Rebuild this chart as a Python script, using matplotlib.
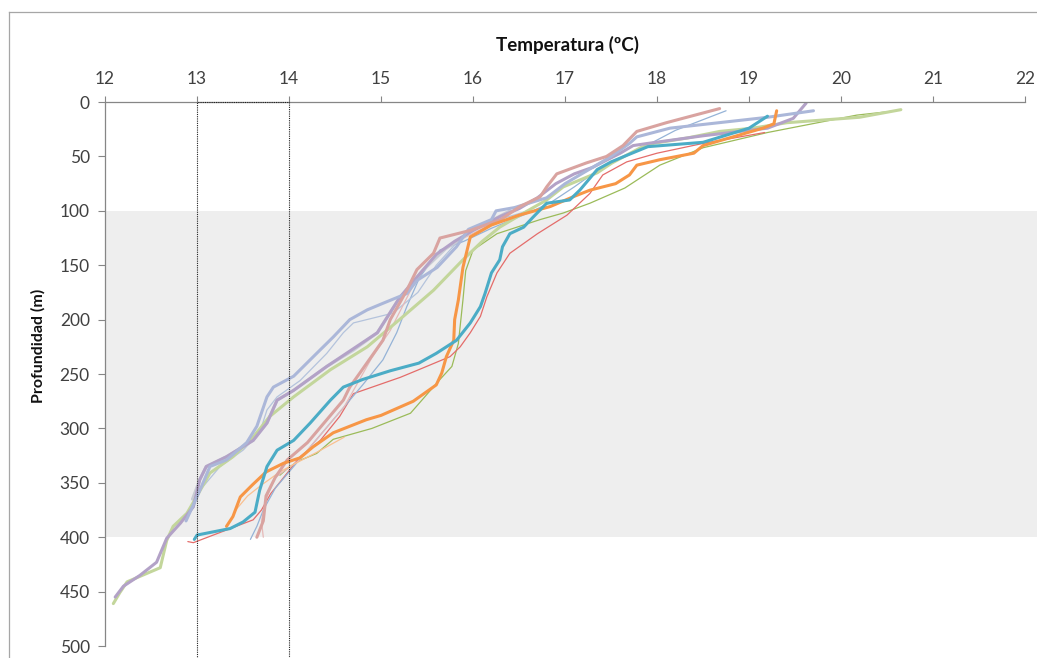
import matplotlib.pyplot as plt
from matplotlib.lines import Line2D

plt.rcParams['font.family'] = ['Lato', 'DejaVu Sans']

# Temperature profiles (temperature ºC, depth m), one pair of lists per cast
rose_t = [18.68, 18.1, 17.78, 17.63, 17.45, 17.23, 16.91, 16.8, 16.73, 16.51, 16.3, 15.97,
          15.64, 15.57, 15.39, 15.28, 15.1, 15.02, 14.77, 14.66, 14.59, 14.41, 14.2, 13.98,
          13.85, 13.75, 13.72, 13.65]
rose_d = [6, 19, 27, 40, 50, 56, 66, 78, 87, 96, 108, 118, 125, 139, 154, 173, 200, 219,
          249, 262, 274, 292, 313, 329, 345, 362, 385, 400]

blue_t = [18.75, 18.2, 17.75, 17.4, 17.1, 16.85, 16.6, 16.2, 15.9, 15.64, 15.42, 15.28,
          15.17, 15.02, 14.8, 14.55, 14.3, 14.05, 13.85, 13.72, 13.65, 13.58]
blue_d = [8, 26, 46, 60, 78, 92, 102, 116, 128, 136, 161, 188, 212, 237, 260, 285, 310,
          335, 355, 375, 390, 402]

peri_t = [19.7, 19.2, 18.14, 17.78, 17.7, 17.5, 17.3, 17.0, 16.8, 16.45, 16.25, 16.2, 15.95,
          15.82, 15.61, 15.39, 15.28, 15.02, 14.85, 14.66, 14.48, 14.3, 14.05, 13.83, 13.76,
          13.65, 13.54, 13.32, 13.14, 13.03, 12.95, 12.88]
peri_d = [8, 14, 24, 32, 38, 50, 60, 75, 88, 97, 100, 108, 117, 133, 152, 164, 176, 185,
          191, 200, 216, 231, 252, 262, 271, 298, 313, 329, 335, 357, 372, 385]

lav_t = [19.62, 19.48, 19.2, 18.5, 17.9, 17.74, 17.6, 17.46, 17.3, 17.1, 16.9, 16.7, 16.5,
         16.3, 16.0, 15.8, 15.6, 15.4, 15.2, 14.96, 14.41, 14.05, 13.87, 13.76, 13.61, 13.32,
         13.1, 13.03, 12.96, 12.82, 12.67, 12.56, 12.38, 12.2, 12.11]
lav_d = [1, 15, 24, 31, 38, 40, 47, 53, 60, 66, 75, 88, 98, 105, 118, 128, 140, 160, 180,
         212, 243, 265, 274, 295, 311, 326, 335, 347, 372, 387, 401, 423, 435, 445, 455]

aqua_t = [19.2, 19.0, 18.5, 17.9, 17.67, 17.5, 17.35, 17.16, 17.05, 16.8, 16.65, 16.55, 16.4,
          16.32, 16.29, 16.2, 16.13, 16.08, 15.97, 15.82, 15.6, 15.41, 15.1, 14.8, 14.59,
          14.45, 14.23, 14.05, 13.87, 13.76, 13.68, 13.63, 13.5, 13.36, 13.0, 12.97]
aqua_d = [13, 24, 37, 41, 49, 55, 62, 81, 90, 93, 106, 115, 121, 133, 145, 157, 176, 188,
          203, 219, 231, 240, 247, 255, 262, 274, 295, 311, 320, 335, 357, 377, 386, 392,
          398, 402]

orange_t = [19.3, 19.27, 19.15, 18.5, 18.4, 18.03, 17.78, 17.7, 17.55, 17.27, 17.09, 16.84,
            16.5, 16.2, 15.97, 15.89, 15.84, 15.8, 15.79, 15.71, 15.66, 15.6, 15.35, 15.0,
            14.84, 14.48, 14.26, 14.12, 13.94, 13.75, 13.6, 13.47, 13.39, 13.32]
orange_d = [8, 20, 24, 40, 47, 53, 58, 67, 75, 81, 87, 96, 104, 113, 124, 152, 182, 200,
            219, 234, 249, 260, 275, 288, 292, 304, 317, 327, 332, 340, 352, 363, 381, 390]

red_t = [19.17, 18.5, 18.0, 17.67, 17.41, 17.27, 17.02, 16.7, 16.4, 16.26, 16.15, 16.08,
         15.97, 15.86, 15.75, 15.41, 15.21, 14.7, 14.55, 14.34, 14.12, 13.98, 13.8, 13.7,
         13.61, 12.96, 12.9]
red_d = [28, 38, 47, 55, 67, 84, 104, 121, 139, 157, 179, 197, 212, 225, 234, 246, 253, 268,
         289, 311, 326, 341, 360, 375, 384, 405, 404]

green_t = [20.6, 20.17, 19.2, 18.5, 18.03, 17.65, 17.27, 16.98, 16.73, 16.26, 16.0, 15.92,
           15.89, 15.84, 15.77, 15.64, 15.32, 14.9, 14.48, 14.3, 14.1, 13.98, 13.9]
green_d = [8, 12, 28, 42, 58, 79, 93, 102, 108, 121, 136, 155, 182, 222, 243, 255, 286, 300,
           310, 323, 330, 337, 343]

lgreen_t = [20.65, 20.2, 19.41, 19.04, 18.68, 18.33, 17.96, 17.82, 17.51, 17.35, 16.98, 16.8,
            16.55, 16.29, 16.1, 15.89, 15.57, 15.2, 14.85, 14.45, 14.05, 13.79, 13.61, 13.39,
            13.14, 13.0, 12.89, 12.74, 12.67, 12.6, 12.24, 12.16, 12.09]
lgreen_d = [7, 14, 19, 24, 27, 33, 38, 42, 56, 65, 78, 90, 102, 115, 128, 145, 173, 200, 225,
            246, 271, 289, 308, 326, 341, 362, 378, 390, 403, 428, 441, 451, 461]

sky_t = [16.6, 16.2, 15.9, 15.6, 15.4, 15.13, 14.7, 14.59, 14.41, 14.12, 13.87, 13.76, 13.68,
         13.5, 13.25, 13.05, 12.95]
sky_d = [100, 110, 122, 150, 175, 194, 203, 212, 231, 256, 271, 283, 304, 320, 335, 355, 372]

grey_t = [16.4, 16.0, 15.7, 15.45, 15.2, 14.96, 14.7, 14.41, 14.05, 13.87, 13.76, 13.61,
          13.32, 13.1, 13.03, 12.95]
grey_d = [100, 118, 135, 155, 180, 212, 228, 243, 265, 274, 295, 311, 326, 335, 347, 365]

pink_t = [16.2, 15.9, 15.6, 15.4, 15.25, 15.1, 14.9, 14.6, 14.35, 14.1, 13.85, 13.75, 13.7,
          13.72]
pink_d = [112, 125, 140, 160, 185, 210, 235, 280, 305, 330, 345, 365, 385, 400]

peach_t = [14.6, 14.3, 14.05, 13.9, 13.7, 13.55, 13.42]
peach_d = [308, 322, 333, 340, 352, 362, 375]

profiles = [
    (green_t, green_d, '#9BBB59', 0.9),
    (red_t, red_d, '#E46C6A', 0.9),
    (blue_t, blue_d, '#95B3D7', 0.9),
    (sky_t, sky_d, '#B4C3DC', 0.9),
    (pink_t, pink_d, '#E6B9B8', 0.9),
    (peach_t, peach_d, '#FAC090', 0.9),
    (grey_t, grey_d, '#C8CBD4', 2.2),
    (lgreen_t, lgreen_d, '#C3D69B', 2.2),
    (lav_t, lav_d, '#B3A2C7', 2.2),
    (peri_t, peri_d, '#ABB7D9', 2.2),
    (rose_t, rose_d, '#D9A3A0', 2.2),
    (orange_t, orange_d, '#F79646', 2.2),
    (aqua_t, aqua_d, '#4BACC6', 2.2),
]

fig = plt.figure(figsize=(10.37, 6.58), dpi=100)
ax = fig.add_axes([0.1013, 0.0182, 0.8872, 0.8267])

# shaded depth band 100-400 m
ax.axhspan(100, 400, xmin=0, xmax=1.013, color='#EEEEEE', lw=0, zorder=0, clip_on=False)

for t, d, c, lw in profiles:
    ax.plot(t, d, color=c, lw=lw, solid_capstyle='round', solid_joinstyle='round', zorder=2)

# dotted box around 13-14 ºC
ax.plot([13, 13, 14, 14], [515, 0, 0, 515], ls=(0, (1, 1)), color='#222222', lw=0.8,
        clip_on=False, zorder=3)

ax.set_xlim(12, 22)
ax.set_ylim(500, 0)
ax.set_xticks(range(12, 23))
ax.set_yticks(range(0, 501, 50))
ax.xaxis.tick_top()
ax.xaxis.set_label_position('top')
for side in ['right', 'bottom']:
    ax.spines[side].set_visible(False)
for side in ['left', 'top']:
    ax.spines[side].set_color('#868686')
    ax.spines[side].set_linewidth(0.9)
ax.tick_params(axis='x', direction='out', length=4, width=0.8, color='#868686',
               labelsize=12.5, labelcolor='#404040', pad=7)
ax.tick_params(axis='y', direction='out', length=5, width=0.8, color='#868686',
               labelsize=12.5, labelcolor='#404040', pad=6)
ax.set_facecolor('none')

fig.text(0.547, 0.932, 'Temperatura (ºC)', ha='center', va='center', fontsize=13.5,
         fontweight='bold', color='#111111')
fig.text(0.037, 0.475, 'Profundidad (m)', ha='center', va='center', rotation=90,
         fontsize=11.5, fontweight='bold', color='#111111')

# chart area frame
fig.add_artist(Line2D([9 / 1037, 9 / 1037], [0, 1 - 12 / 658], color='#A6A6A6', lw=0.9))
fig.add_artist(Line2D([9 / 1037, 1], [1 - 12 / 658, 1 - 12 / 658], color='#A6A6A6', lw=0.9))

fig.savefig('out.png', dpi=100)
